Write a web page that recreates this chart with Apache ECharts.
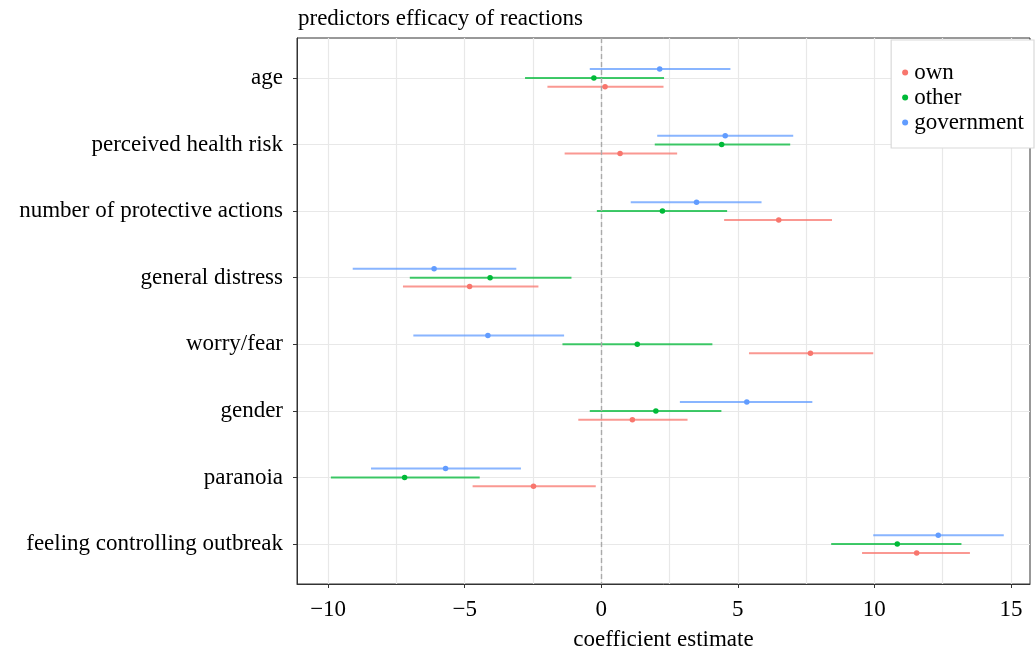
<!DOCTYPE html>
<html>
<head>
<meta charset="utf-8">
<script src="https://cdn.jsdelivr.net/npm/echarts@6/dist/echarts.min.js"></script>
<style>
  html, body { margin: 0; padding: 0; background: #fff; }
  #chart { width: 1036px; height: 651px; }
</style>
</head>
<body>
<div id="chart"></div>
<script>
// predictors, top to bottom
const categories = ['age', 'perceived health risk', 'number of protective actions', 'general distress',
  'worry/fear', 'gender', 'paranoia', 'feeling controlling outbreak']

const ownEst = [0.14, 0.69, 6.50, -4.82, 7.66, 1.14, -2.48, 11.55]
const ownLow = [-1.97, -1.34, 4.50, -7.26, 5.41, -0.84, -4.71, 9.55]
const ownHigh = [2.28, 2.78, 8.45, -2.30, 9.96, 3.16, -0.20, 13.50]

const otherEst = [-0.27, 4.41, 2.24, -4.07, 1.32, 2.00, -7.20, 10.84]
const otherLow = [-2.79, 1.96, -0.16, -7.01, -1.42, -0.42, -9.90, 8.42]
const otherHigh = [2.30, 6.92, 4.61, -1.09, 4.07, 4.40, -4.45, 13.19]

const govEst = [2.14, 4.54, 3.49, -6.12, -4.15, 5.33, -5.70, 12.34]
const govLow = [-0.42, 2.05, 1.08, -9.10, -6.88, 2.88, -8.43, 9.96]
const govHigh = [4.73, 7.03, 5.87, -3.11, -1.36, 7.73, -2.94, 14.74]

const xTicks = [-10, -5, 0, 5, 10, 15]
const xGrid = [-10, -7.5, -5, -2.5, 0, 2.5, 5, 7.5, 10, 12.5, 15]

const font = 'Liberation Serif'
const fontSize = 23
const groups = [
  { name: 'own', color: '#F8766D', est: ownEst, low: ownLow, high: ownHigh, dodge: 0.1333 },
  { name: 'other', color: '#00BA38', est: otherEst, low: otherLow, high: otherHigh, dodge: 0 },
  { name: 'government', color: '#619CFF', est: govEst, low: govLow, high: govHigh, dodge: -0.1333 }
]
const yPos = categories.map((c, i) => i + 1)

const chart = echarts.init(document.getElementById('chart'))

const pointSeries = groups.map(g => ({
  name: g.name,
  type: 'scatter',
  symbol: 'circle',
  symbolSize: 5.5,
  z: 5,
  itemStyle: { color: g.color, opacity: 1 },
  data: g.est.map((v, i) => [v, yPos[i] + g.dodge])
}))

const barSeries = groups.map(g => ({
  name: g.name,
  type: 'custom',
  z: 3,
  encode: { x: [0, 1], y: 2 },
  data: g.low.map((lo, i) => [lo, g.high[i], yPos[i] + g.dodge]),
  renderItem: (params, api) => {
    const y = api.value(2)
    const p1 = api.coord([api.value(0), y])
    const p2 = api.coord([api.value(1), y])
    return {
      type: 'line',
      shape: { x1: p1[0], y1: p1[1], x2: p2[0], y2: p2[1] },
      style: { stroke: g.color, lineWidth: 2, opacity: 0.75 }
    }
  }
}))

// dashed zero line
barSeries[0].markLine = {
  silent: true,
  symbol: 'none',
  label: { show: false },
  lineStyle: { color: '#aaaaaa', type: [5, 3], width: 1.4 },
  data: [{ xAxis: 0 }]
}

const option = {
  animation: false,
  textStyle: { fontFamily: font },
  title: {
    text: 'predictors efficacy of reactions',
    left: 293,
    top: 2,
    textStyle: { fontFamily: font, fontSize: fontSize, fontWeight: 'normal', color: '#000' }
  },
  legend: {
    orient: 'vertical',
    right: 2,
    top: 40,
    padding: [20, 10, 13, 11],
    itemGap: 0,
    itemWidth: 6,
    itemHeight: 6,
    backgroundColor: '#fff',
    borderColor: '#d9d9d9',
    borderWidth: 1.2,
    itemStyle: { opacity: 1 },
    textStyle: { fontFamily: font, fontSize: fontSize, color: '#000', lineHeight: 25, padding: [0, 0, 0, 1] },
    data: groups.map(g => ({ name: g.name, icon: 'circle' }))
  },
  grid: {
    left: 297,
    right: 6,
    top: 38,
    bottom: 67,
    containLabel: false,
    outerBoundsMode: 'none',
    show: true,
    borderColor: '#333333',
    borderWidth: 1,
    backgroundColor: 'transparent'
  },
  xAxis: [
    {
      type: 'value',
      min: -11.14,
      max: 15.7,
      name: 'coefficient estimate',
      nameLocation: 'middle',
      nameGap: 44,
      nameTextStyle: { fontFamily: font, fontSize: fontSize, color: '#000' },
      axisLine: { show: true, onZero: false, lineStyle: { color: '#333333', width: 1 } },
      axisTick: { show: true, length: 4, customValues: xTicks, lineStyle: { color: '#333333' } },
      axisLabel: {
        customValues: xTicks,
        margin: 14,
        fontFamily: font,
        fontSize: fontSize,
        color: '#000',
        formatter: v => (v < 0 ? '\u2212' + Math.abs(v) : String(v))
      },
      splitLine: { show: false }
    },
    {
      type: 'value',
      min: -11.14,
      max: 15.7,
      position: 'bottom',
      axisLine: { show: false, onZero: false },
      axisTick: { show: false, customValues: xGrid },
      axisLabel: { show: false, customValues: xGrid },
      splitLine: { show: true, lineStyle: { color: '#e8e8e8', width: 1.2 } }
    }
  ],
  yAxis: {
    type: 'value',
    inverse: true,
    min: 0.4,
    max: 8.6,
    axisLine: { show: true, onZero: false, lineStyle: { color: '#333333', width: 1 } },
    axisTick: { show: true, length: 4, customValues: yPos, lineStyle: { color: '#333333' } },
    axisLabel: {
      customValues: yPos,
      margin: 14,
      fontFamily: font,
      fontSize: fontSize,
      color: '#000',
      formatter: v => categories[Math.round(v) - 1] || ''
    },
    splitLine: { show: true, lineStyle: { color: '#e8e8e8', width: 1.2 } }
  },
  series: pointSeries.concat(barSeries)
}

chart.setOption(option)
</script>
</body>
</html>
